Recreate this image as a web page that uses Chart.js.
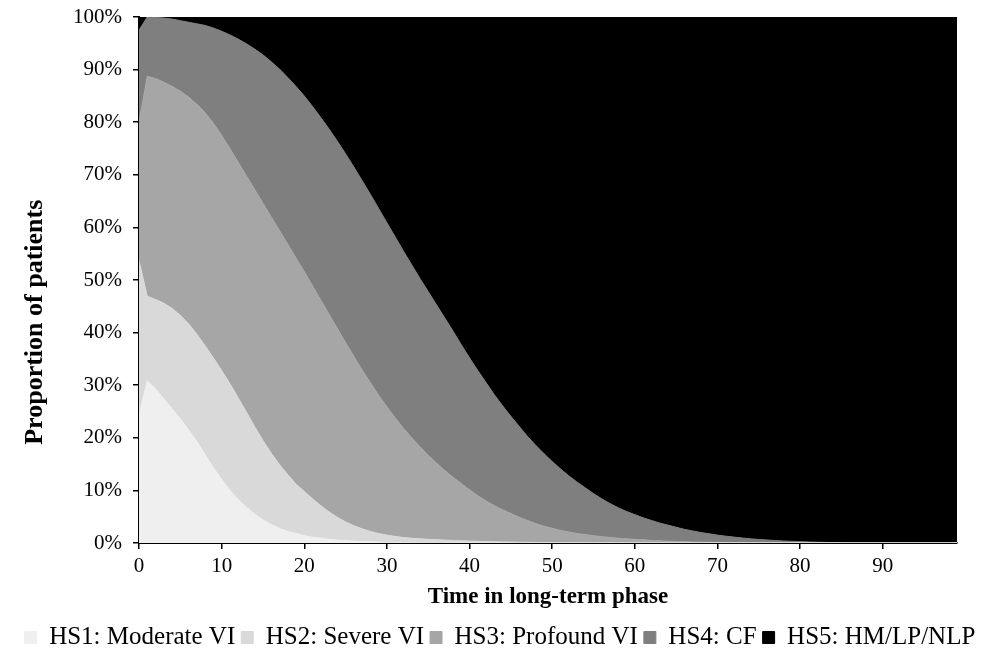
<!DOCTYPE html>
<html>
<head>
<meta charset="utf-8">
<script src="https://cdn.jsdelivr.net/npm/chart.js@4.4.1/dist/chart.umd.min.js"></script>
<style>
  html, body { margin: 0; padding: 0; background: #fff; }
  #wrap { width: 1000px; height: 651px; position: relative; }
</style>
</head>
<body>
<div id="wrap"><canvas id="myChart"></canvas></div>
<script>
// time in long-term phase
const times = [0,1,2,3,4,5,6,7,8,9,10,11,12,13,14,15,16,17,18,19,20,21,22,23,24,25,26,27,28,29,
  30,31,32,33,34,35,36,37,38,39,40,41,42,43,44,45,46,47,48,49,50,51,52,53,54,55,56,57,58,59,
  60,61,62,63,64,65,66,67,68,69,70,71,72,73,74,75,76,77,78,79,80,81,82,83,84,85,86,87,88,89,
  90,91,92,93,94,95,96,97,98,99];

// cumulative proportion (%) up to each health state
const upToHS1 = [24.5,30.8,29.3,27.4,25.5,23.6,21.5,19.3,16.8,14.3,
  12.1,10.0,8.3,6.8,5.5,4.4,3.5,2.8,2.2,1.8,
  1.4,1.1,0.9,0.7,0.55,0.45,0.35,0.28,0.22,0.18,
  0.14,0.11,0.09,0.07,0.05,0.04,0.03,0.02,0.02,0.01,
  0.01,0,0,0,0,0,0,0,0,0,
  0,0,0,0,0,0,0,0,0,0, 0,0,0,0,0,0,0,0,0,0, 0,0,0,0,0,0,0,0,0,0,
  0,0,0,0,0,0,0,0,0,0, 0,0,0,0,0,0,0,0,0,0];
const upToHS2 = [53.7,46.9,46.3,45.6,44.6,43.3,41.7,39.7,37.5,35.2,
  32.8,30.3,27.6,24.9,22.1,19.5,17.1,14.9,13.0,11.2,
  9.8,8.4,7.1,5.9,4.9,4.0,3.3,2.7,2.2,1.8,
  1.5,1.25,1.05,0.9,0.8,0.7,0.62,0.55,0.48,0.42,
  0.37,0.32,0.28,0.24,0.21,0.18,0.15,0.13,0.11,0.09,
  0.08,0.07,0.06,0.05,0.04,0.03,0.02,0.02,0.01,0.01,
  0,0,0,0,0,0,0,0,0,0, 0,0,0,0,0,0,0,0,0,0,
  0,0,0,0,0,0,0,0,0,0, 0,0,0,0,0,0,0,0,0,0];
const upToHS3 = [80.0,88.7,88.3,87.6,86.8,85.9,84.8,83.4,81.8,79.8,
  77.5,75.0,72.4,69.8,67.2,64.6,62.0,59.4,56.8,54.2,
  51.6,48.9,46.2,43.5,40.8,38.1,35.5,32.9,30.5,28.1,
  25.9,23.8,21.8,20.0,18.3,16.7,15.2,13.8,12.5,11.3,
  10.1,9.0,8.0,7.1,6.3,5.6,4.9,4.3,3.7,3.2,
  2.8,2.4,2.1,1.8,1.6,1.4,1.2,1.05,0.9,0.8,
  0.7,0.6,0.5,0.42,0.35,0.29,0.24,0.2,0.16,0.13,
  0.1,0.08,0.06,0.05,0.04,0.03,0.02,0.02,0.01,0.01,
  0,0,0,0,0,0,0,0,0,0, 0,0,0,0,0,0,0,0,0,0];
const upToHS4 = [97.5,100,99.9,99.8,99.6,99.3,99.0,98.7,98.4,97.9,
  97.3,96.6,95.8,94.9,93.9,92.8,91.5,90.1,88.5,86.8,
  85.0,83.0,80.9,78.7,76.4,74.0,71.5,68.9,66.3,63.6,
  60.9,58.2,55.5,52.9,50.3,47.8,45.3,42.8,40.3,37.7,
  35.2,32.8,30.5,28.2,26.1,24.1,22.2,20.3,18.6,17.0,
  15.5,14.1,12.8,11.6,10.5,9.4,8.4,7.5,6.7,6.0,
  5.4,4.8,4.3,3.8,3.4,3.0,2.6,2.3,2.0,1.75,
  1.5,1.3,1.12,0.95,0.8,0.68,0.57,0.47,0.39,0.32,
  0.26,0.2,0.15,0.11,0.07,0.04,0.02,0.01,0,0,
  0,0,0,0,0,0,0,0,0,0];

const stateNames = ["HS1: Moderate VI", "HS2: Severe VI", "HS3: Profound VI", "HS4: CF", "HS5: HM/LP/NLP"];
const stateColors = ["#efefef", "#d9d9d9", "#a6a6a6", "#7f7f7f", "#000000"];
const xTickLabels = ["0", "10", "20", "30", "40", "50", "60", "70", "80", "90"];
const yTickLabels = ["0%", "10%", "20%", "30%", "40%", "50%", "60%", "70%", "80%", "90%", "100%"];

Chart.defaults.font.family = "'Liberation Serif', 'Times New Roman', serif";
Chart.defaults.color = "#000";

const area = (i, data, fill) => ({
  label: stateNames[i],
  data: data,
  fill: fill,
  backgroundColor: stateColors[i],
  borderColor: stateColors[i],
  borderWidth: 1,
  pointRadius: 0,
  tension: 0,
});

var ctx = document.getElementById("myChart");
var myChart = new Chart(ctx, {
  type: "line",
  data: {
    labels: times,
    datasets: [
      area(0, upToHS1, "origin"),
      area(1, upToHS2, "-1"),
      area(2, upToHS3, "-1"),
      area(3, upToHS4, "-1"),
      area(4, upToHS4, "end"), // HS5 fills the rest up to 100%
    ],
  },
  options: {
    responsive: true,
    maintainAspectRatio: false,
    animation: false,
    layout: { padding: { top: 17, left: 0, right: 0, bottom: -9 } },
    plugins: {
      tooltip: { enabled: false },
      legend: {
        position: "bottom",
        labels: {
          boxWidth: 12,
          boxHeight: 12,
          padding: 6,
          font: { size: 25 },
        },
      },
    },
    scales: {
      x: {
        type: "linear",
        min: 0,
        max: 99,
        afterFit: (s) => { s.height = 76; },
        grid: { drawOnChartArea: false, drawTicks: true, tickLength: 6, color: "#000", lineWidth: 1.5 },
        border: { display: true, color: "#000", width: 2 },
        ticks: {
          stepSize: 10,
          includeBounds: false,
          maxRotation: 0,
          padding: 5,
          font: { size: 21 },
          callback: (v) => xTickLabels[v / 10],
        },
        title: {
          display: true,
          text: "Time in long-term phase",
          font: { size: 23, weight: "bold" },
          padding: { top: 0, bottom: 8 },
        },
      },
      y: {
        min: 0,
        max: 100,
        afterFit: (s) => {
          s.width = 139;
          s.paddingTop = 0;
          s.paddingBottom = 0;
        },
        grid: { drawOnChartArea: false, drawTicks: true, tickLength: 6, color: "#000", lineWidth: 1.5 },
        border: { display: true, color: "#000", width: 2 },
        ticks: {
          stepSize: 10,
          padding: 11,
          font: { size: 21 },
          callback: (v) => yTickLabels[v / 10],
        },
        title: {
          display: true,
          // trailing spaces push the title a bit below the axis middle, as in the original
          text: "Proportion of patients             ",
          font: { size: 26, weight: "bold" },
          padding: { top: 20, bottom: 0 },
        },
      },
      // empty right axis, only keeps the plot's right margin
      yRight: {
        position: "right",
        afterFit: (s) => { s.width = 43; },
        grid: { display: false },
        border: { display: false },
        ticks: { display: false },
      },
    },
  },
});
</script>
</body>
</html>
